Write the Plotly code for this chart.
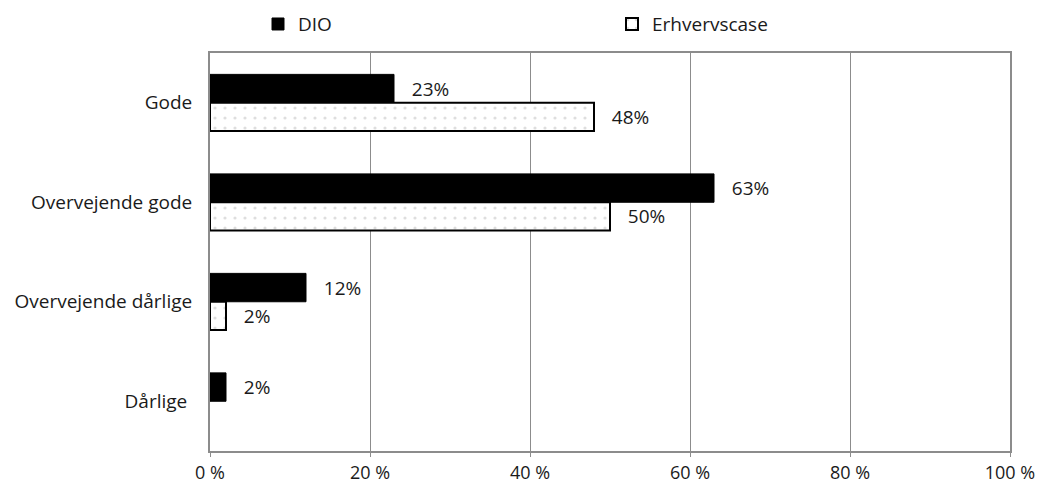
import plotly.graph_objects as go

categories = ["Gode", "Overvejende gode", "Overvejende dårlige", "Dårlige"]
category_labels = ["Gode", "Overvejende gode", "Overvejende dårlige", "Dårlige\u00a0"]
dio = [23, 63, 12, 2]
erhvervscase = [48, 50, 2, None]
x_ticks = [0, 20, 40, 60, 80, 100]

NB = "\u00a0"


def labels(values):
    return [f"{NB*3}{v}%" if v else "" for v in values]


font_family = "Open Sans, Noto Sans, sans-serif"
text_color = "#1a1a1a"
grid_color = "#8c8c8c"
fs = 19

fig = go.Figure()
fig.add_trace(go.Bar(
    name="DIO",
    y=categories,
    x=dio,
    orientation="h",
    marker=dict(color="black", line=dict(color="black", width=1)),
    text=labels(dio),
    textposition="outside",
    cliponaxis=False,
    textfont=dict(size=fs, color=text_color, family=font_family),
))
fig.add_trace(go.Bar(
    name="Erhvervscase",
    y=categories,
    x=erhvervscase,
    orientation="h",
    marker=dict(
        color="white",
        line=dict(color="black", width=2),
        pattern=dict(shape=".", fgcolor="#bdbdbd", bgcolor="white", size=10, solidity=0.08),
    ),
    text=labels(erhvervscase),
    textposition="outside",
    cliponaxis=False,
    textfont=dict(size=fs, color=text_color, family=font_family),
))

fig.update_layout(
    width=1043,
    height=486,
    margin=dict(l=210, r=33, t=53, b=35, autoexpand=False),
    paper_bgcolor="white",
    plot_bgcolor="white",
    barmode="group",
    bargap=0.43,
    bargroupgap=0,
    font=dict(family=font_family, size=fs, color=text_color),
    showlegend=True,
    legend=dict(
        orientation="h",
        x=0.06,
        xanchor="left",
        y=1.0725,
        yanchor="middle",
        entrywidth=309,
        entrywidthmode="pixels",
        itemwidth=30,
        font=dict(size=fs, color=text_color, family=font_family),
        traceorder="normal",
    ),
)

fig.update_xaxes(
    range=[0, 100],
    tickvals=x_ticks,
    ticktext=[f"{v} %" for v in x_ticks],
    showgrid=True,
    gridcolor=grid_color,
    gridwidth=1,
    showline=True,
    linecolor=grid_color,
    linewidth=2,
    mirror=True,
    ticks="outside",
    ticklen=4,
    tickcolor=grid_color,
    zeroline=False,
    tickfont=dict(size=18, color=text_color),
)
fig.update_yaxes(
    autorange="reversed",
    tickvals=categories,
    ticktext=category_labels,
    showgrid=False,
    showline=True,
    linecolor=grid_color,
    linewidth=2,
    mirror=True,
    ticks="",
    ticklabelstandoff=12,
    tickfont=dict(size=fs, color=text_color),
)

fig.write_html("out.html")
